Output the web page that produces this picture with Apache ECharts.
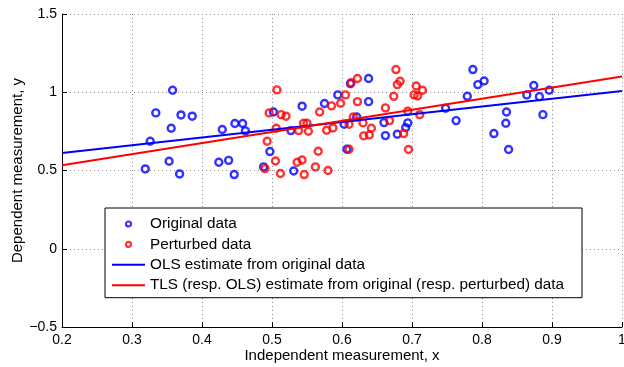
<!DOCTYPE html>
<html>
<head>
<meta charset="utf-8">
<script src="https://cdn.jsdelivr.net/npm/echarts@6/dist/echarts.min.js"></script>
<style>html,body{margin:0;padding:0;background:#fff}#c{width:624px;height:367px}</style>
</head>
<body>
<div id="c"></div>
<script>
// Original data (blue circles)
const origX = [0.358,0.334,0.370,0.386,0.356,0.326,0.353,0.319,0.368,0.429,0.424,0.438,0.447,0.458,0.462,0.446,0.502,0.543,0.575,0.527,0.497,0.488,0.531,0.594,0.612,0.638,0.638,0.603,0.621,0.662,0.660,0.607,0.694,0.691,0.679,0.748,0.763,0.779,0.787,0.794,0.803,0.817,0.835,0.834,0.838,0.864,0.874,0.882,0.896,0.887];
const origY = [1.013,0.868,0.855,0.847,0.770,0.687,0.559,0.510,0.478,0.762,0.553,0.565,0.800,0.800,0.753,0.474,0.874,0.911,0.928,0.755,0.621,0.523,0.497,0.983,1.055,1.088,0.940,0.796,0.842,0.723,0.806,0.636,0.804,0.774,0.732,0.898,0.819,0.974,1.145,1.049,1.072,0.736,0.874,0.802,0.634,0.983,1.043,0.972,1.013,0.857];
// Perturbed data (red circles)
const pertX = [0.507,0.496,0.513,0.520,0.568,0.506,0.538,0.545,0.550,0.552,0.493,0.505,0.566,0.490,0.536,0.543,0.512,0.546,0.562,0.585,0.598,0.605,0.613,0.622,0.622,0.578,0.587,0.610,0.616,0.630,0.642,0.631,0.639,0.668,0.662,0.674,0.679,0.683,0.677,0.610,0.580,0.694,0.688,0.695,0.706,0.703,0.708,0.715,0.711];
const pertY = [1.015,0.868,0.857,0.847,0.874,0.770,0.755,0.802,0.802,0.751,0.687,0.561,0.623,0.512,0.553,0.567,0.481,0.474,0.523,0.913,0.930,0.983,1.061,1.088,0.940,0.757,0.772,0.796,0.842,0.804,0.770,0.721,0.727,0.819,0.900,0.974,1.049,1.070,1.145,0.636,0.500,0.879,0.736,0.634,1.040,0.983,0.976,1.013,0.857];
// Fitted lines (end points)
const lineX = [0.2, 1.0];
const olsY = [0.612, 1.008];
const tlsY = [0.534, 1.100];
// Tick labels
const xTicks = [0.2,0.3,0.4,0.5,0.6,0.7,0.8,0.9,1];
const xTickLabels = ['0.2','0.3','0.4','0.5','0.6','0.7','0.8','0.9','1'];
const yTicks = [-0.5,0,0.5,1,1.5];
const yTickLabels = ['\u22120.5','0','0.5','1','1.5'];

const names = ['Original data','Perturbed data','OLS estimate from original data','TLS (resp. OLS) estimate from original (resp. perturbed) data'];
const BLUE = '#0000ff', RED = '#ff0000';
const FONT = 'Liberation Sans, Arial, Helvetica, sans-serif';
const LINE_ICON = 'path://M0,0H66V4H0Z';

function zip(a, b){ return a.map((v,i)=>[v,b[i]]); }
function lab(ticks, labels){ return v => { const i = ticks.findIndex(t=>Math.abs(t-v)<1e-9); return i>=0?labels[i]:''; }; }

const chart = echarts.init(document.getElementById('c'), null, {renderer:'canvas'});
chart.setOption({
  animation:false,
  backgroundColor:'#fff',
  textStyle:{fontFamily:FONT},
  grid:{left:62, right:2, top:14, bottom:40, containLabel:false, outerBoundsMode:'none'},
  xAxis:{
    type:'value', min:0.2, max:1, interval:0.1,
    axisLine:{show:true, onZero:false, lineStyle:{color:'#000', width:1}},
    axisTick:{show:true, inside:true, length:5, lineStyle:{color:'#000'}},
    axisLabel:{formatter:lab(xTicks,xTickLabels), color:'#000', fontSize:14, margin:6, fontFamily:FONT, hideOverlap:false},
    splitLine:{show:true, lineStyle:{color:'#8c8c8c', type:[1,3], width:1}},
    name:'Independent measurement, x', nameLocation:'middle', nameGap:21, nameMoveOverlap:false,
    nameTextStyle:{color:'#000', fontSize:15, fontFamily:FONT}
  },
  yAxis:{
    type:'value', min:-0.5, max:1.5, interval:0.5,
    axisLine:{show:true, onZero:false, lineStyle:{color:'#000', width:1}},
    axisTick:{show:true, inside:true, length:5, lineStyle:{color:'#000'}},
    axisLabel:{formatter:lab(yTicks,yTickLabels), color:'#000', fontSize:14, margin:5, fontFamily:FONT, hideOverlap:false},
    splitLine:{show:true, lineStyle:{color:'#8c8c8c', type:[1,3], width:1}},
    name:'Dependent measurement, y', nameLocation:'middle', nameGap:37, nameMoveOverlap:false,
    nameTextStyle:{color:'#000', fontSize:15, fontFamily:FONT}
  },
  legend:{
    orient:'vertical', left:105, top:208,
    backgroundColor:'#fff', borderColor:'#000', borderWidth:1,
    padding:[8.5,18,5,7], itemGap:5.4, itemWidth:33, itemHeight:5,
    textStyle:{color:'#000', fontSize:15.3, lineHeight:15, fontFamily:FONT},
    data:[
      {name:names[0], icon:'circle', itemStyle:{color:'rgba(0,0,0,0)', borderColor:BLUE, borderWidth:2.2}},
      {name:names[1], icon:'circle', itemStyle:{color:'rgba(0,0,0,0)', borderColor:RED, borderWidth:2.2}},
      {name:names[2], icon:LINE_ICON, itemStyle:{color:BLUE, borderWidth:0}},
      {name:names[3], icon:LINE_ICON, itemStyle:{color:RED, borderWidth:0}}
    ]
  },
  series:[
    {name:names[0], type:'scatter', data:zip(origX,origY), symbol:'circle', symbolSize:7, z:2,
     itemStyle:{color:'rgba(0,0,0,0)', borderColor:BLUE, borderWidth:2.4}},
    {name:names[1], type:'scatter', data:zip(pertX,pertY), symbol:'circle', symbolSize:7, z:3,
     itemStyle:{color:'rgba(0,0,0,0)', borderColor:RED, borderWidth:2.4}},
    {name:names[2], type:'line', data:zip(lineX,olsY), symbol:'none', z:4,
     lineStyle:{color:BLUE, width:2}, itemStyle:{color:BLUE}},
    {name:names[3], type:'line', data:zip(lineX,tlsY), symbol:'none', z:5,
     lineStyle:{color:RED, width:2}, itemStyle:{color:RED}}
  ]
});
</script>
</body>
</html>
